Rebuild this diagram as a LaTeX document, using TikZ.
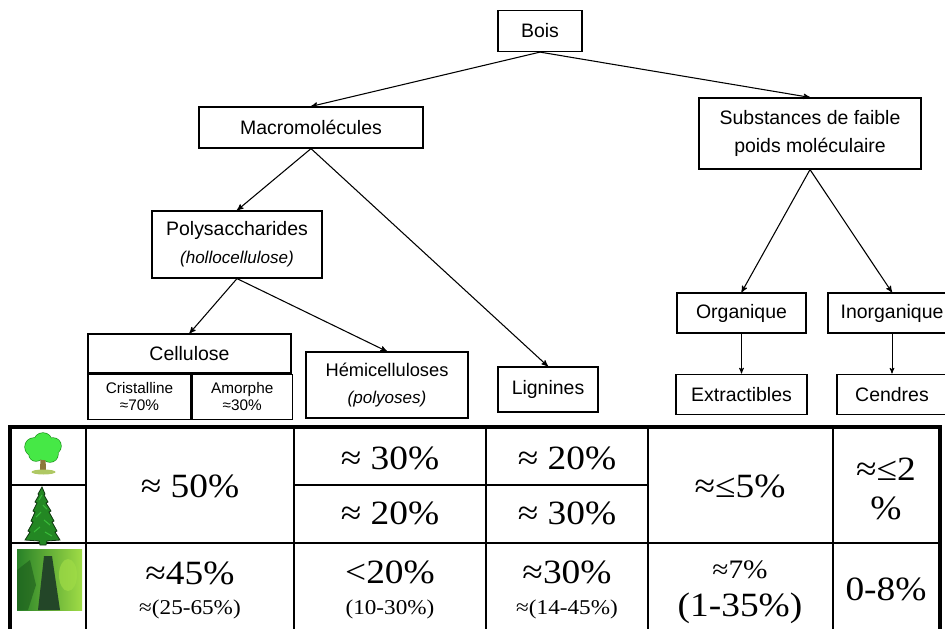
\documentclass[tikz,border=0pt]{standalone}
\usepackage{fontspec}
\newfontfamily\boxfont{Liberation Sans}
\newfontfamily\tabfont[FakeStretch=1.1]{Liberation Serif}
\usepackage{tikz}
\usetikzlibrary{
        arrows,
        positioning
    }
\definecolor{feuille}{RGB}{70,232,70}
\definecolor{feuillebord}{RGB}{30,150,30}
\definecolor{tronc}{RGB}{140,120,60}
\definecolor{sol}{RGB}{175,200,100}
\definecolor{sapin}{RGB}{35,135,35}
\definecolor{sapinbord}{RGB}{15,55,15}
\definecolor{foret}{RGB}{40,130,40}
\definecolor{foretclair}{RGB}{160,220,70}
\definecolor{foretsombre}{RGB}{35,70,40}
\tikzset{>=stealth',auto}
\tikzset{boite/.style={draw,rectangle,line width=0.9pt,inner sep=0pt,align=center,
        font=\boxfont\fontsize{14.6}{21}\selectfont}}
\tikzset{sousboite/.style={draw,rectangle,line width=0.9pt,inner sep=0pt,align=center,
        font=\boxfont\fontsize{11.5}{12.75}\selectfont}}
\tikzset{chiffre/.style={inner sep=0pt,font=\tabfont\fontsize{25.5}{29}\selectfont}}
\tikzset{moyen/.style={inner sep=0pt,font=\tabfont\fontsize{20}{22}\selectfont}}
\tikzset{petit/.style={inner sep=0pt,font=\tabfont\fontsize{15.8}{17}\selectfont}}
\tikzset{fin/.style={line width=1.1pt}}
\tikzset{cadre/.style={line width=3pt}}

\begin{document}
\begin{tikzpicture}[x=0.75pt,y=-0.75pt]
                \useasboundingbox (0,0) rectangle (945,628);
                \clip (0,0) rectangle (945,628);
                % arbre du schema
                \node[boite,minimum width=63pt,minimum height=30.75pt] (bois) at (540,31) {Bois};
                \node[boite,minimum width=168pt,minimum height=30.75pt] (macro) at (311,127.5) {Macromolécules};
                \node[boite,minimum width=166.5pt,minimum height=53.25pt] (subst) at (810,133.5) {Substances de faible\\poids moléculaire};
                \node[boite,minimum width=127.5pt,minimum height=50.25pt] (poly) at (237,244.5)
                        {Polysaccharides\\{\fontsize{12.8}{15}\selectfont\itshape (hollocellulose)}};
                \node[boite,minimum width=152.25pt,minimum height=29.25pt] (cell) at (189.5,353.5) {Cellulose};
                \node[sousboite,minimum width=77.25pt,minimum height=33.75pt] (cris) [below right=0pt of cell.south west] {Cristalline\\≈70\%};
                \node[sousboite,minimum width=75pt,minimum height=33.75pt] (amor) [right=0pt of cris] {Amorphe\\≈30\%};
                \node[boite,minimum width=121.5pt,minimum height=49.5pt,font=\boxfont\fontsize{13.7}{20}\selectfont] (hemi) at (387,385)
                        {Hémicelluloses\\{\fontsize{12.8}{15}\selectfont\itshape (polyoses)}};
                \node[boite,minimum width=75pt,minimum height=33.75pt] (lign) at (548,389.5) {Lignines};
                \node[boite,minimum width=96.75pt,minimum height=30pt] (org) at (741.5,313) {Organique};
                \node[boite,minimum width=96pt,minimum height=30pt] (inorg) at (892,313) {Inorganique};
                \node[boite,minimum width=98.25pt,minimum height=30pt] (extr) [below=30pt of org] {Extractibles};
                \node[boite,minimum width=82.5pt,minimum height=30pt] (cend) [below=30pt of inorg] {Cendres};
                \draw[line width=2pt] (cell.south west) -- (cell.south east);
                \path[->,line width=0.8pt]
                        (bois.south)  edge (macro.north)
                        (bois.south)  edge (subst.north)
                        (macro.south) edge (poly.north)
                        (macro.south) edge (lign.north)
                        (poly.south)  edge (cell.north)
                        (poly.south)  edge (hemi.north)
                        (subst.south) edge (org.north)
                        (subst.south) edge (inorg.north)
                ;
                \path[->,line width=0.6pt]
                        (org)   edge (extr)
                        (inorg) edge (cend)
                ;
                % tableau
                \foreach \x in {86,294,486,648,833}
                        \draw[fin] (\x,427) -- (\x,640);
                \draw[fin] (10,485) -- (86,485);
                \draw[fin] (294,485) -- (648,485);
                \draw[fin] (10,543) -- (940,543);
                \draw[cadre] (10,640) -- (10,427) -- (940,427) -- (940,640);
                \node[chiffre] (cel1) at (190,486) {≈ 50\%};
                \node[chiffre] (hem1) at (390,458) {≈ 30\%};
                \node[chiffre] (hem2) at (390,513) {≈ 20\%};
                \node[chiffre] (lig1) at (567,458) {≈ 20\%};
                \node[chiffre] (lig2) at (567,513) {≈ 30\%};
                \node[chiffre] (ext1) at (740,486) {≈≤5\%};
                \node[chiffre,align=center] (cen1) at (886,489) {≈≤2\\\%};
                \node[chiffre] (cel3) at (190,573) {≈45\%};
                \node[petit] (cel3b) at (190,609) {≈(25-65\%)};
                \node[chiffre] (hem3) at (390,572) {<20\%};
                \node[petit] (hem3b) at (390,609) {(10-30\%)};
                \node[chiffre] (lig3) at (567,572) {≈30\%};
                \node[petit] (lig3b) at (567,609) {≈(14-45\%)};
                \node[moyen] (ext3) at (740,570) {≈7\%};
                \node[chiffre] (ext3b) at (740,608) {(1-35\%)};
                \node[chiffre] (cen3) at (886,589) {0-8\%};
                % feuillu
                \fill[feuillebord] (34,447) circle (9.7) (43,442) circle (9.7) (53,446) circle (8.7)
                        (36,454) circle (7.7) (50,454) circle (8.7) (43,451) circle (9.7);
                \fill[tronc] (40,471) -- (40.5,457) -- (45.5,457) -- (46,471) -- cycle;
                \fill[feuille] (34,447) circle (9) (43,442) circle (9) (53,446) circle (8)
                        (36,454) circle (7) (50,454) circle (8) (43,451) circle (9);
                \fill[sol] (43.5,472) ellipse (12 and 2.5);
                % resineux
                \filldraw[fill=sapin,draw=sapinbord,line width=0.6pt]
                        (42,487) -- (45,494) -- (44,495) -- (48,502) -- (46,503) -- (51,511) -- (49,512)
                        -- (54,521) -- (52,522) -- (57,531) -- (55,532) -- (60,540) -- (47,541) -- (46,545)
                        -- (40,545) -- (39,541) -- (25,540) -- (30,532) -- (28,531) -- (33,522) -- (31,521)
                        -- (35,512) -- (33,511) -- (37,503) -- (35,502) -- (39,495) -- (38,494) -- cycle;
                \draw[feuille!80!black,line width=0.8pt] (42,495) -- (39,500) (43,505) -- (47,509)
                        (41,512) -- (36,517) (44,520) -- (50,525) (40,527) -- (34,532) (45,532) -- (52,536);
                % foret
                \shade[left color=foret,right color=foretclair] (17,549) rectangle (82,610);
                \fill[foret!70!black,opacity=0.6] (17,570) -- (30,560) -- (36,585) -- (28,610) -- (17,610) -- cycle;
                \fill[foretsombre] (38,610) -- (44,556) -- (52,556) -- (60,610) -- cycle;
                \fill[foretclair,opacity=0.7] (68,575) ellipse (9 and 16);
\end{tikzpicture}
\end{document}
